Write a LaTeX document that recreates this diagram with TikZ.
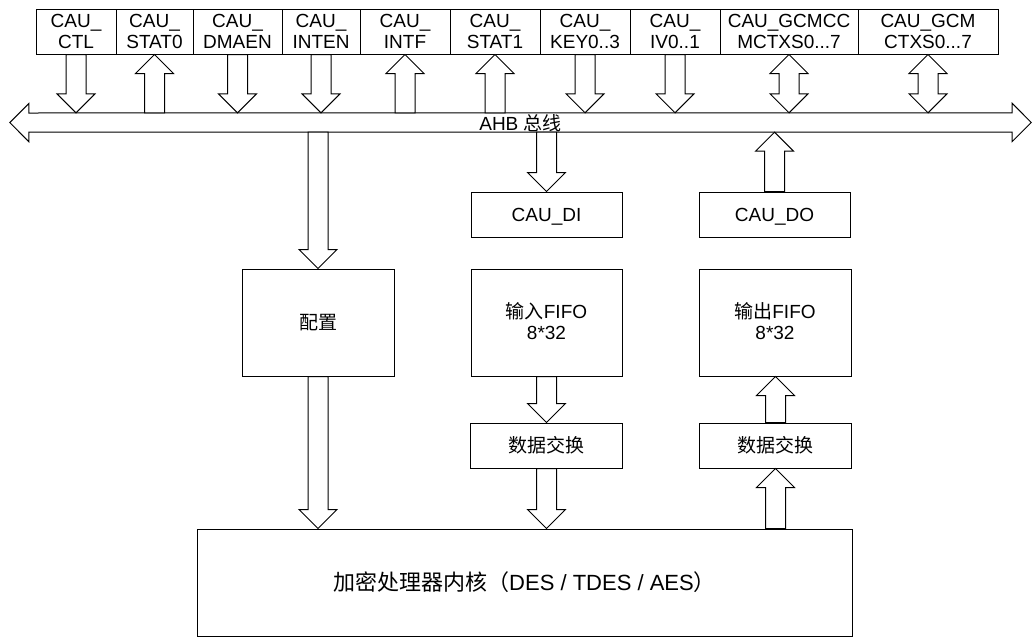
\documentclass[tikz,border=0pt]{standalone}
\usepackage{fontspec}
\setmainfont{Liberation Sans}
\newfontfamily\cjk{Noto Sans CJK SC}
\usetikzlibrary{calc}
\newcommand\blkdown[2]{\draw[blk] let \p1=#1, \p2=#2 in
  (\x1-10pt,\y1) -- (\x1+10pt,\y1) -- (\x1+10pt,\y2+19pt) -- (\x1+19pt,\y2+19pt)
  -- (\x1,\y2) -- (\x1-19pt,\y2+19pt) -- (\x1-10pt,\y2+19pt) -- cycle;}
\newcommand\blkup[2]{\draw[blk] let \p1=#1, \p2=#2 in
  (\x1-10pt,\y1) -- (\x1-10pt,\y2-19pt) -- (\x1-19pt,\y2-19pt) -- (\x1,\y2)
  -- (\x1+19pt,\y2-19pt) -- (\x1+10pt,\y2-19pt) -- (\x1+10pt,\y1) -- cycle;}
\newcommand\blkboth[2]{\draw[blk] let \p1=#1, \p2=#2 in
  (\x1,\y1) -- (\x1+19pt,\y1-19pt) -- (\x1+10pt,\y1-19pt) -- (\x1+10pt,\y2+19pt)
  -- (\x1+19pt,\y2+19pt) -- (\x1,\y2) -- (\x1-19pt,\y2+19pt) -- (\x1-10pt,\y2+19pt)
  -- (\x1-10pt,\y1-19pt) -- (\x1-19pt,\y1-19pt) -- cycle;}
\begin{document}
\begin{tikzpicture}[x=1pt,y=-1pt,
  box/.style={draw, line width=1pt, inner sep=0pt, align=center, font=\fontsize{19}{21}\selectfont},
  reg/.style={box, minimum height=45pt, text height=34.6pt, text depth=0pt},
  one/.style={box, text height=13.6pt, text depth=0pt},
  two/.style={box, text height=34.6pt, text depth=0pt},
  blk/.style={draw, line width=1pt, fill=white, line join=miter},
  busline/.style={draw, line width=1pt, line join=miter}]
\useasboundingbox (0,0) rectangle (1032,637);
% register boxes
\node[reg, minimum width=80pt] (ctl)   at (76,31.5)   {CAU\_\\CTL};
\node[reg, minimum width=77pt] (stat0) at (154.5,31.5) {CAU\_\\STAT0};
\node[reg, minimum width=89pt] (dmaen) at (237.5,31.5) {CAU\_\\DMAEN};
\node[reg, minimum width=78pt] (inten) at (321,31.5)  {CAU\_\\INTEN};
\node[reg, minimum width=90pt] (intf)  at (405,31.5)  {CAU\_\\INTF};
\node[reg, minimum width=90pt] (stat1) at (495,31.5)  {CAU\_\\STAT1};
\node[reg, minimum width=90pt] (key)   at (585,31.5)  {CAU\_\\KEY0..3};
\node[reg, minimum width=90pt] (iv)    at (675,31.5)  {CAU\_\\IV0..1};
\node[reg, minimum width=138pt] (gcmcc) at (789,31.5) {CAU\_GCMCC\\MCTXS0...7};
\node[reg, minimum width=140pt] (gcm)  at (928,31.5)  {CAU\_GCM\\CTXS0...7};
% bus
\node[inner sep=0pt, minimum width=1021pt, minimum height=19pt, text height=15pt, text depth=0pt,
      font=\fontsize{19}{21}\selectfont] (bus) at (520.5,122.5) {AHB {\cjk 总线}};
\draw[busline] (bus.west) -- ++(19,-19) -- ++(0,9.5) -- ($(bus.north east)+(-19,0)$) -- ++(0,-9.5)
  -- (bus.east) -- ++(-19,19) -- ++(0,-9.5) -- ($(bus.south west)+(19,0)$) -- ++(0,9.5) -- cycle;
% lower boxes
\node[one, minimum width=152pt, minimum height=107pt] (cfg) at (318,322.5) {{\cjk 配置}};
\node[one, minimum width=151pt, minimum height=45pt] (di) at (546.5,214.5) {CAU\_DI};
\node[two, minimum width=151pt, minimum height=107pt] (fin) at (546.5,322.5) {{\cjk 输入}FIFO\\8*32};
\node[one, minimum width=152pt, minimum height=45pt] (sw1) at (546.5,445.5) {{\cjk 数据交换}};
\node[one, minimum width=151pt, minimum height=45pt] (dout) at (774.5,214.5) {CAU\_DO};
\node[two, minimum width=152pt, minimum height=107pt] (fout) at (775,322.5) {{\cjk 输出}FIFO\\8*32};
\node[one, minimum width=152pt, minimum height=45pt] (sw2) at (775.5,445.5) {{\cjk 数据交换}};
\node[one, minimum width=655pt, minimum height=107pt, text height=15.8pt, font=\fontsize{22}{24}\selectfont]
  (core) at (524.5,582.5) {{\cjk 加密处理器内核（}DES / TDES / AES{\cjk ）}};
% register <-> bus
\blkdown{(ctl.south)}{(ctl.south |- bus.north)}
\blkup{(stat0.south |- bus.north)}{(stat0.south)}
\blkdown{(dmaen.south)}{(dmaen.south |- bus.north)}
\blkdown{(inten.south)}{(inten.south |- bus.north)}
\blkup{(intf.south |- bus.north)}{(intf.south)}
\blkup{(stat1.south |- bus.north)}{(stat1.south)}
\blkdown{(key.south)}{(key.south |- bus.north)}
\blkdown{(iv.south)}{(iv.south |- bus.north)}
\blkboth{(gcmcc.south)}{(gcmcc.south |- bus.north)}
\blkboth{(gcm.south)}{(gcm.south |- bus.north)}
% bus -> lower
\blkdown{(cfg.north |- bus.south)}{(cfg.north)}
\blkdown{(di.north |- bus.south)}{(di.north)}
\blkup{(dout.north)}{(dout.north |- bus.south)}
% data path
\blkdown{(cfg.south)}{(cfg.south |- core.north)}
\blkdown{(fin.south)}{(fin.south |- sw1.north)}
\blkdown{(sw1.south)}{(sw1.south |- core.north)}
\blkup{(sw2.south |- core.north)}{(sw2.south)}
\blkup{(sw2.north)}{(sw2.north |- fout.south)}
\end{tikzpicture}
\end{document}
